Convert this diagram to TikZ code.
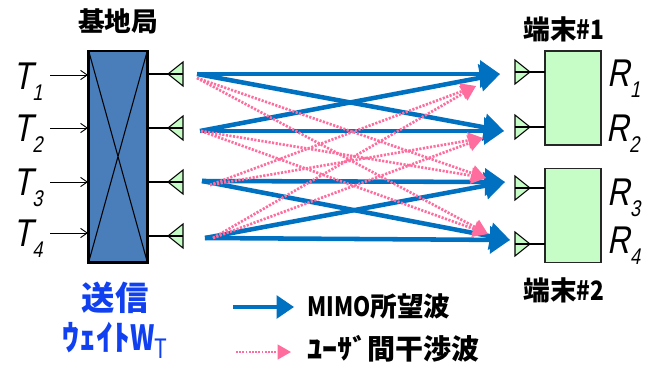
\documentclass[tikz,border=0pt]{standalone}
\usepackage{fontspec}
\setmainfont{Liberation Sans}
\newfontfamily\cjk{Noto Sans CJK JP}
\newfontfamily\slantf[FakeSlant=0.25]{Liberation Sans}
\usetikzlibrary{arrows.meta,calc}
\definecolor{bluearrow}{HTML}{0070C0}
\definecolor{pinkarrow}{HTML}{FF6C9E}
\definecolor{boxblue}{HTML}{4A7EBB}
\definecolor{antgreen}{HTML}{C6FCC6}
\definecolor{textblue}{HTML}{1040F0}
\tikzset{
  x=0.75pt,y=-0.75pt,
  wave/.style={draw=bluearrow,line width=3.4pt,-{Triangle[length=15pt,width=20pt]}},
  wavekey/.style={draw=bluearrow,line width=2.6pt,-{Triangle[length=13pt,width=17pt]}},
  leak/.style={draw=pinkarrow,line width=2pt,dash pattern=on 1.6pt off 1.1pt,-{Triangle[length=11pt,width=12pt,color=pinkarrow]}},
  leakkey/.style={draw=pinkarrow,line width=1.6pt,dash pattern=on 1.4pt off 1pt,-{Triangle[length=10pt,width=11pt,color=pinkarrow]}},
  inarrow/.style={draw=black,line width=0.7pt,-{Straight Barb[length=5pt,width=7pt]}},
  wire/.style={draw=black,line width=0.8pt},
  lab/.style={inner sep=0pt,font=\fontsize{20}{20}\selectfont\bfseries\cjk,text=black},
  sym/.style={inner sep=0pt,font=\fontsize{29}{29}\selectfont\slantf,text=black},
  ant/.style={draw=black,line width=0.8pt,fill=antgreen,line join=miter},
  term/.style={draw=black!85,line width=1pt,fill=antgreen}
}
\newcommand{\symb}[2]{\scalebox{0.8}[1]{#1}\raisebox{-8pt}{\fontsize{17}{17}\selectfont\scalebox{0.8}[1]{#2}}}
\begin{document}
\begin{tikzpicture}
\useasboundingbox (0,0) rectangle (654,368);
% base station
\node[draw=black,line width=2pt,fill=boxblue,minimum width=44pt,minimum height=158.5pt,inner sep=0pt,outer sep=0pt] (bs) at (118,156.5) {};
\draw[black,line width=0.8pt] (bs.north west) -- (bs.south east) (bs.north east) -- (bs.south west);
\node[lab] (bslabel) at (118,21) {基地局};
% input symbols
\foreach \i/\y/\sy in {1/75/82,2/128/134,3/182/188,4/233/239}{
  \node[sym,anchor=center] (T\i) at (28,\sy) {\symb{T}{\i}};
  \coordinate (in\i) at (50,\y);
  \coordinate (bsin\i) at (88,\y);
  \draw[inarrow] (in\i) -- (bsin\i);
}
% tx antennas
\foreach \i/\y in {1/74,2/128,3/182,4/236}{
  \coordinate (txs\i) at (148,\y);
  \coordinate (txt\i) at (168,\y);
  \coordinate (txb\i) at (183,\y);
  \draw[wire] (txs\i) -- (txt\i);
  \draw[ant] (168,\y) -- (183,\y-12) -- (183,\y+12) -- cycle;
  \draw[wire] (txt\i) -- (txb\i);
}
% terminals
\node[term,minimum width=42pt,minimum height=70.5pt,inner sep=0pt,outer sep=0pt] (t1) at (573,98) {};
\node[term,minimum width=42pt,minimum height=70.5pt,inner sep=0pt,outer sep=0pt] (t2) at (573,215.5) {};
\node[lab] (t1label) at (564,29) {端末\scalebox{0.85}[1]{\#1}};
\node[lab] (t2label) at (564,290) {端末\scalebox{0.85}[1]{\#2}};
% rx antennas
\foreach \i/\y/\e in {1/72/545,2/127/545,3/188/545,4/244/545}{
  \coordinate (rxt\i) at (530,\y);
  \coordinate (rxb\i) at (515,\y);
  \coordinate (rxe\i) at (\e,\y);
  \draw[wire] (rxt\i) -- (rxe\i);
  \draw[ant] (530,\y) -- (515,\y-12) -- (515,\y+12) -- cycle;
  \draw[wire] (rxb\i) -- (rxt\i);
}
\node[sym] (R1) at (624,79) {\symb{R}{1}};
\node[sym] (R2) at (623,134) {\symb{R}{2}};
\node[sym] (R3) at (624,198) {\symb{R}{3}};
\node[sym] (R4) at (624,246) {\symb{R}{4}};
% ray end points
\coordinate (a1) at (197,74); \coordinate (a2) at (200,131);
\coordinate (a3) at (202,181); \coordinate (a4) at (205,238);
\coordinate (b1) at (500,74); \coordinate (b2) at (504,131);
\coordinate (b3) at (505,182); \coordinate (b4) at (510,240);
\coordinate (c1) at (197,78); \coordinate (c2) at (201,131);
\coordinate (c3) at (210,185); \coordinate (c4) at (213,238);
\coordinate (d1) at (476,86); \coordinate (d2) at (483,138);
\coordinate (d3) at (486,178); \coordinate (d4) at (488,234);
% desired
\draw[wave] (a1) -- (b1);
\draw[wave] (a1) -- (b2);
\draw[wave] (a2) -- (b2);
\draw[wave] (a2) -- (b1);
\draw[wave] (a3) -- (b3);
\draw[wave] (a3) -- (b4);
\draw[wave] (a4) -- (b4);
\draw[wave] (a4) -- (b3);
% interference
\draw[leak] (c1) -- (d3);
\draw[leak] (c1) -- (d4);
\draw[leak] (c2) -- (d3);
\draw[leak] (c2) -- (d4);
\draw[leak] (c3) -- (d1);
\draw[leak] (c3) -- (d2);
\draw[leak] (c4) -- (d1);
\draw[leak] (c4) -- (d2);
% bottom-left caption
\node[inner sep=0pt,text=textblue,font=\fontsize{25}{25}\selectfont\bfseries\cjk] (send) at (115,298) {送信};
\node[inner sep=0pt,text=textblue,anchor=center] (weight) at (115,340) {\fontsize{26}{26}\selectfont\bfseries\cjk\scalebox{0.97}[1]{ｳｪｲﾄ}\scalebox{0.75}[1]{W}\raisebox{-6pt}{\fontsize{20}{20}\selectfont\mdseries\cjk\scalebox{0.8}[1]{T}}};
% legend
\coordinate (k1a) at (233,307); \coordinate (k1b) at (294,307);
\coordinate (k2a) at (236,352); \coordinate (k2b) at (291,352);
\draw[wavekey] (k1a) -- (k1b);
\draw[leakkey] (k2a) -- (k2b);
\node[lab,anchor=west] (k1) at (307,306) {\scalebox{0.82}[1]{MIMO}所望波};
\node[lab,anchor=west,font=\fontsize{21}{21}\selectfont\bfseries\cjk] (k2) at (307,349) {\scalebox{1.08}[1]{ﾕｰｻﾞ}間干渉波};
\end{tikzpicture}
\end{document}
